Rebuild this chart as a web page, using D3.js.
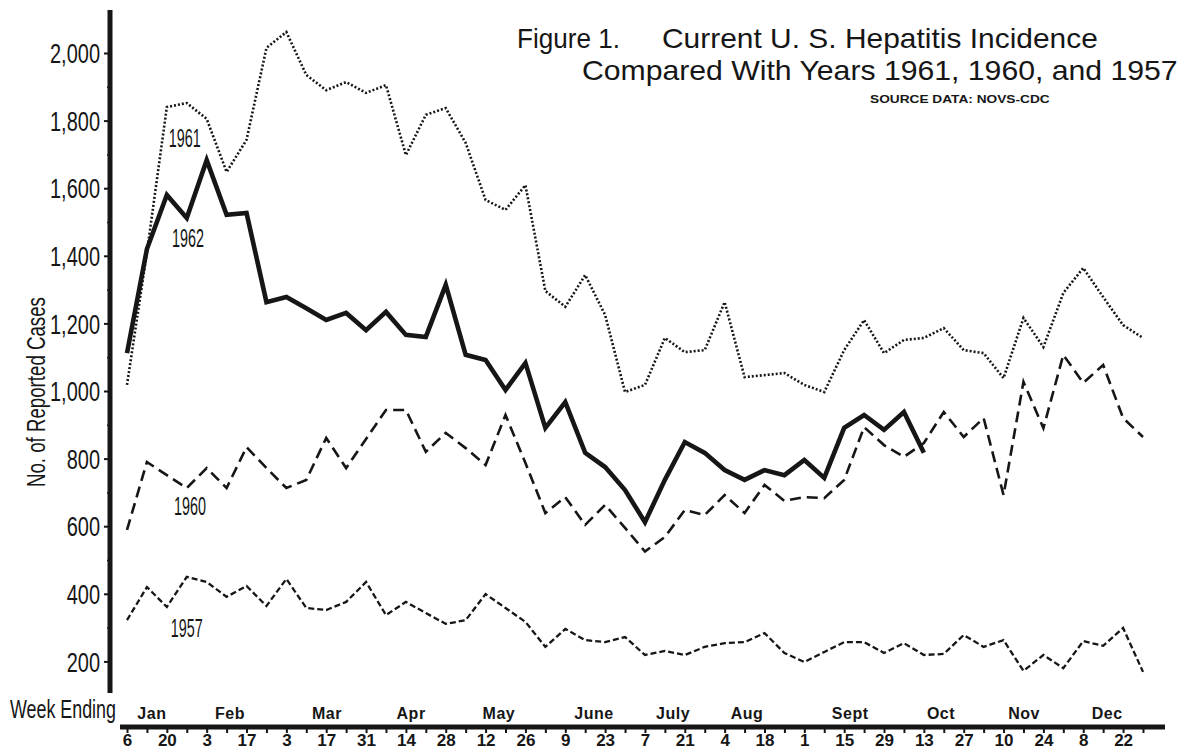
<!DOCTYPE html>
<html>
<head>
<meta charset="utf-8">
<script src="https://cdn.jsdelivr.net/npm/d3@7"></script>
<style>
  html, body { margin: 0; padding: 0; background: #ffffff; }
  svg { display: block; }
</style>
</head>
<body>
<svg id="chart" width="1191" height="750"></svg>
<script>
// ---------------- DATA ----------------
const weekCount = 52; // weeks ending Jan 6 ... Dec 29
const dayLabels = ["6","20","3","17","3","17","31","14","28","12","26","9","23","7","21","4","18","1","15","29","13","27","10","24","8","22"];
const months = ["Jan","Feb","Mar","Apr","May","June","July","Aug","Sept","Oct","Nov","Dec"];
const yTicks = [200,400,600,800,1000,1200,1400,1600,1800,2000];
const yMinorTicks = [300,500,700,900,1100,1300,1500,1700,1900];

const cases1962 = [1112,1420,1580,1512,1683,1521,1527,1263,1278,1245,1210,1231,1180,1234,1166,1160,1314,1107,1092,1003,1083,891,967,817,775,707,612,737,849,817,766,737,766,751,796,743,891,929,885,938,817];
const cases1961 = [1018,1410,1840,1852,1805,1648,1743,2015,2062,1935,1890,1914,1882,1905,1698,1817,1837,1734,1565,1536,1609,1296,1249,1343,1225,997,1018,1157,1115,1121,1263,1041,1047,1053,1018,997,1121,1210,1112,1151,1157,1186,1121,1112,1038,1216,1130,1290,1364,1278,1195,1157];
const cases1960 = [589,790,751,713,772,713,834,772,713,737,861,772,858,944,944,820,876,831,781,929,787,639,686,604,663,595,525,568,648,633,692,639,722,675,686,683,737,893,840,805,846,938,864,920,692,1027,890,1107,1024,1077,920,864];
const cases1957 = [322,420,361,450,435,391,423,364,444,358,352,376,435,337,376,343,311,322,399,358,317,243,296,263,257,272,219,231,219,243,254,257,284,225,198,228,257,257,225,254,219,222,278,243,263,172,219,180,260,246,299,169];

const seriesNames = ["1961","1962","1960","1957"];

// ---------------- LAYOUT ----------------
const svg = d3.select("#chart");
const x = d3.scaleLinear().domain([0, weekCount - 1]).range([127, 1143]);
const y = d3.scaleLinear().domain([0, 2000]).range([729, 53]);
const ink = "#161616";
const narrow = "'Liberation Sans','DejaVu Sans',sans-serif";
const bold = "'Liberation Sans','DejaVu Sans',sans-serif";
const title = "'Liberation Sans','DejaVu Sans',sans-serif";

// month label centres in week units
const monthPos = [1.25,5.17,10.04,14.26,18.67,23.44,27.41,31.12,36.3,40.86,45.03,49.2];

// place a text so that its natural width is scaled to a target width
function fitText(parent, str, px, py, width, size, family, weight, anchor) {
  const t = parent.append("text").attr("fill", ink)
    .style("font-family", family).style("font-size", size + "px")
    .style("font-weight", weight || "normal").text(str);
  const w = t.node().getComputedTextLength();
  const s = width / w;
  const left = anchor === "middle" ? px - width / 2 : px;
  t.attr("transform", `translate(${left},${py}) scale(${s},1)`);
  return t;
}

// ---------------- AXES ----------------
const yAxis = d3.axisLeft(y).tickValues(yTicks).tickSize(6).tickPadding(0)
  .tickFormat(d3.format(","));
const gy = svg.append("g").attr("transform", "translate(110,0)").call(yAxis);
gy.select(".domain").remove();
gy.selectAll(".tick line").attr("stroke", ink).attr("stroke-width", 2);
gy.selectAll(".tick text")
  .attr("x", -10 / 0.74).attr("dy", "0.36em")
  .attr("transform", "scale(0.74,1)")
  .attr("fill", ink)
  .style("font-family", narrow).style("font-size", "27px");
const yMinor = d3.axisLeft(y).tickValues(yMinorTicks).tickSize(3).tickFormat("");
const gym = svg.append("g").attr("transform", "translate(110,0)").call(yMinor);
gym.select(".domain").remove();
gym.selectAll(".tick line").attr("stroke", ink).attr("stroke-width", 1.5);
svg.append("line").attr("x1", 110).attr("x2", 110).attr("y1", 10).attr("y2", 693)
  .attr("stroke", ink).attr("stroke-width", 5);

const xAxis = d3.axisBottom(x).tickValues(d3.range(0, weekCount)).tickSize(6)
  .tickFormat(i => i % 2 === 0 ? dayLabels[i / 2] : "");
const gx = svg.append("g").attr("transform", "translate(0,727)").call(xAxis);
gx.select(".domain").remove();
gx.selectAll(".tick line").attr("stroke", ink).attr("stroke-width", 2);
gx.selectAll(".tick text").attr("y", 6).attr("dy", "0.74em")
  .attr("fill", ink)
  .style("font-family", bold).style("font-weight", "bold").style("font-size", "17px");
svg.append("line").attr("x1", 120).attr("x2", 1165).attr("y1", 727).attr("y2", 727)
  .attr("stroke", ink).attr("stroke-width", 5);

svg.append("g").selectAll("text").data(months).join("text")
  .attr("x", (d, i) => x(monthPos[i])).attr("y", 719)
  .attr("text-anchor", "middle").attr("fill", ink)
  .style("font-family", bold).style("font-weight", "bold").style("font-size", "16px")
  .style("letter-spacing", "0.5px")
  .text(d => d);

// axis titles
fitText(svg, "Week Ending", 10, 718, 106, 25, narrow);
const yt = svg.append("g").attr("transform", "translate(45,392) rotate(-90)");
fitText(yt, "No. of Reported Cases", 0, 0, 190, 26, narrow, "normal", "middle");

// ---------------- LINES ----------------
const line = d3.line().x((d, i) => x(i)).y(d => y(d));
const styles = {
  "1961": { data: cases1961, w: 2.6, dash: "2,2" },
  "1960": { data: cases1960, w: 2.6, dash: "11,6" },
  "1957": { data: cases1957, w: 2.3, dash: "6,3" },
  "1962": { data: cases1962, w: 4.6, dash: null }
};
["1961","1960","1957","1962"].forEach(k => {
  const s = styles[k];
  svg.append("path").datum(s.data)
    .attr("d", line)
    .attr("fill", "none").attr("stroke", ink)
    .attr("stroke-width", s.w)
    .attr("stroke-linejoin", "miter")
    .attr("stroke-linecap", "butt")
    .attr("stroke-dasharray", s.dash);
});

// series labels (placed in data units)
const labelAt = { "1961": [2.9, 1751], "1962": [3.06, 1455], "1960": [3.16, 663], "1957": [3.0, 302] };
seriesNames.forEach(d => {
  fitText(svg, d, x(labelAt[d][0]), y(labelAt[d][1]) + 10, 32, 26, narrow, "normal", "middle");
});

// ---------------- TITLE ----------------
fitText(svg, "Figure 1.", 517, 48, 103, 27, title);
fitText(svg, "Current U. S. Hepatitis Incidence", 662, 48, 436, 27, title);
fitText(svg, "Compared With Years 1961, 1960, and 1957", 582, 80, 596, 27, title);
fitText(svg, "SOURCE DATA: NOVS-CDC", 870, 103, 180, 11, bold, "bold");
</script>
</body>
</html>
